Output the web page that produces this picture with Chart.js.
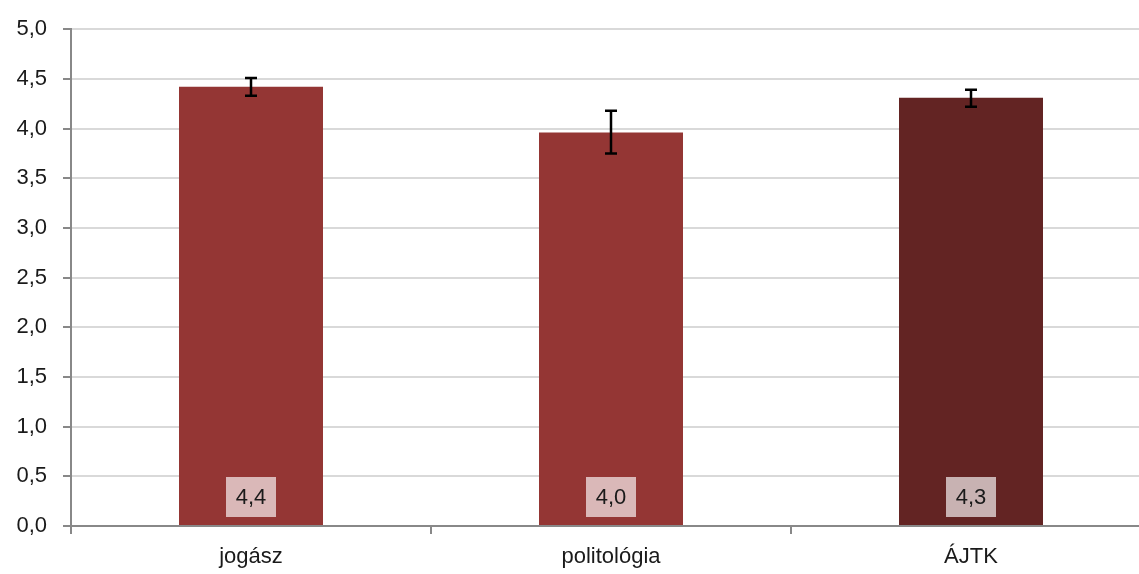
<!DOCTYPE html>
<html>
<head>
<meta charset="utf-8">
<script src="https://cdn.jsdelivr.net/npm/chart.js@4"></script>
<style>
  html, body { margin: 0; padding: 0; background: #fff; overflow: hidden; }
  #wrap { width: 1151px; height: 574px; }
</style>
</head>
<body>
<div id="wrap"><canvas id="chart"></canvas></div>
<script>
const categories = ["jogász", "politológia", "ÁJTK"];
const means = [4.42, 3.96, 4.31];
const errLow = [4.33, 3.75, 4.22];
const errHigh = [4.51, 4.18, 4.39];
const valueLabels = ["4,4", "4,0", "4,3"];
const barColors = ["#943634", "#943634", "#632423"];

const FONT = "'Liberation Sans Narrow', 'Arial Narrow', 'Liberation Sans', sans-serif";

// error bars drawn from the y scale
const errorBars = {
    id: "errorBars",
    afterDatasetsDraw(chart) {
        const ctx = chart.ctx, y = chart.scales.y;
        const meta = chart.getDatasetMeta(0);
        ctx.save();
        ctx.strokeStyle = "#000";
        ctx.lineWidth = 2.5;
        meta.data.forEach((bar, i) => {
            const top = y.getPixelForValue(errHigh[i]);
            const bot = y.getPixelForValue(errLow[i]);
            ctx.beginPath();
            ctx.moveTo(bar.x, top); ctx.lineTo(bar.x, bot);
            ctx.moveTo(bar.x - 6, top); ctx.lineTo(bar.x + 6, top);
            ctx.moveTo(bar.x - 6, bot); ctx.lineTo(bar.x + 6, bot);
            ctx.stroke();
        });
        ctx.restore();
    }
};

// value boxes sitting at the foot of each bar
const valueBoxes = {
    id: "valueBoxes",
    afterDatasetsDraw(chart) {
        const ctx = chart.ctx, y = chart.scales.y;
        const meta = chart.getDatasetMeta(0);
        const base = y.getPixelForValue(0);
        ctx.save();
        ctx.font = "22px " + FONT;
        ctx.textAlign = "center";
        ctx.textBaseline = "middle";
        meta.data.forEach((bar, i) => {
            ctx.fillStyle = "rgba(255,255,255,0.65)";
            ctx.fillRect(bar.x - 25, base - 49, 50, 40);
            ctx.fillStyle = "#1a1a1a";
            ctx.fillText(valueLabels[i], bar.x, base - 28);
        });
        ctx.restore();
    }
};

new Chart(document.getElementById("chart"), {
    type: "bar",
    data: {
        labels: categories,
        datasets: [{
            data: means,
            backgroundColor: barColors,
            barPercentage: 0.4,
            categoryPercentage: 1.0
        }]
    },
    options: {
        responsive: true,
        maintainAspectRatio: false,
        animation: false,
        layout: { padding: { top: 25, right: 0, left: 0, bottom: 0 } },
        plugins: { legend: { display: false }, tooltip: { enabled: false } },
        scales: {
            x: {
                grid: { offset: true, drawOnChartArea: false, tickLength: 8, color: "#888", lineWidth: 2 },
                border: { color: "#888", width: 2 },
                ticks: { color: "#1a1a1a", font: { family: FONT, size: 22 }, padding: 10 },
                afterFit(scale) { scale.height = 48; }
            },
            y: {
                min: 0, max: 5,
                grid: { color: "#d9d9d9", lineWidth: 2, tickLength: 8, tickColor: "#888" },
                border: { color: "#888", width: 2 },
                ticks: {
                    stepSize: 0.5,
                    color: "#1a1a1a",
                    font: { family: FONT, size: 22 },
                    padding: 16,
                    callback: v => v.toFixed(1).replace(".", ",")
                },
                afterFit(scale) { scale.width = 71; }
            }
        }
    },
    plugins: [errorBars, valueBoxes]
});
</script>
</body>
</html>
